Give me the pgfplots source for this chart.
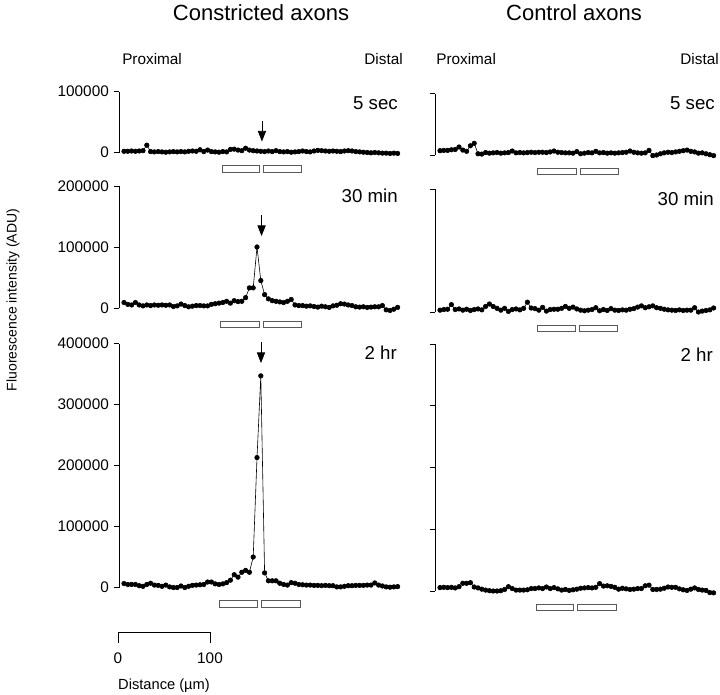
\documentclass[border=0pt]{standalone}
\usepackage{pgfplots}
\pgfplotsset{compat=1.18}
\usepackage{fontspec}
\setmainfont{Liberation Sans}
\usetikzlibrary{arrows.meta}
\newdimen\px \px=0.75pt
\pgfplotsset{
 panel/.style={scale only axis, width=213pt, xmin=-1.316, xmax=73.42, ymin=0, clip=false,
   axis x line=none, axis y line*=left, tick align=outside, major tick length=4.1pt,
   scaled y ticks=false,
   xtick=\empty, every tick/.style={black, line width=0.6pt}, axis line style={line width=0.6pt},
   yticklabel style={font=\fontsize{11.5}{12}\selectfont}, anchor=south west},
 series/.style={black, line width=0.45pt, mark=*, mark size=1.7pt, mark options={fill=black}}
}
\tikzset{boxes/.style={draw=black!65, line width=0.6pt}}
\newcommand{\bars}[4]{%
 \draw[boxes] ([yshift=-13\px]axis cs:#1,0) rectangle ([yshift=-19.5\px]axis cs:#2,0);
 \draw[boxes] ([yshift=-13\px]axis cs:#3,0) rectangle ([yshift=-19.5\px]axis cs:#4,0);}
\begin{document}
\begin{tikzpicture}
\path[use as bounding box] (0,0) rectangle (540pt,-520.5pt);
% ---------- Left row 1
\begin{axis}[panel, at={(119\px,-152.5\px)}, height=45.75pt, ymax=100000,
  ytick={0,100000}, yticklabels={0,100000}]
\addplot[series] coordinates {(0,2000)(1,2000)(2,2500)(3,2000)(4,2500)(5,3000)(6,12000)(7,1500)(8,1000)(9,1500)(10,1000)(11,500)(12,1000)(13,1500)(14,1000)(15,1500)(16,1000)(17,2000)(18,2500)(19,2000)(20,4500)(21,1500)(22,4000)(23,1500)(24,1000)(25,500)(26,1500)(27,1000)(28,5000)(29,5500)(30,4000)(31,3000)(32,7000)(33,4000)(34,3000)(35,2500)(36,2000)(37,1500)(38,2500)(39,1500)(40,3000)(41,1500)(42,1000)(43,1500)(44,500)(45,1000)(46,1500)(47,2500)(48,1500)(49,1000)(50,2500)(51,3500)(52,3000)(53,2500)(54,2000)(55,2500)(56,2000)(57,1500)(58,2500)(59,3000)(60,2500)(61,1500)(62,1000)(63,500)(64,0)(65,-500)(66,0)(67,-500)(68,-1000)(69,-1000)(70,-1500)(71,-1000)(72,-1500)};
\bars{25.8}{35.5}{36.8}{46.8}
\draw[line width=0.6pt,-{Triangle[length=8pt,width=6.2pt]}] (axis cs:36.3,52000) -- (axis cs:36.3,18000);
\end{axis}
% ---------- Left row 2
\begin{axis}[panel, at={(119\px,-308\px)}, height=91.5pt, ymax=200000,
  ytick={0,100000,200000}, yticklabels={0,100000,200000}]
\addplot[series] coordinates {(0,9000)(1,6000)(2,5000)(3,9000)(4,5000)(5,3500)(6,5000)(7,4000)(8,5000)(9,4500)(10,5000)(11,4500)(12,5000)(13,2500)(14,3500)(15,6500)(16,4000)(17,2000)(18,3000)(19,4000)(20,4000)(21,3500)(22,3500)(23,6000)(24,7000)(25,8000)(26,9000)(27,11000)(28,8000)(29,12000)(30,10500)(31,11000)(32,17000)(33,33000)(34,33000)(35,100000)(36,45000)(37,22000)(38,15000)(39,12000)(40,11000)(41,10000)(42,9000)(43,11000)(44,14000)(45,5000)(46,4000)(47,4000)(48,3000)(49,3500)(50,2500)(51,1500)(52,3000)(53,2000)(54,1000)(55,3500)(56,4500)(57,7000)(58,6500)(59,5000)(60,4000)(61,2000)(62,1500)(63,2000)(64,1000)(65,1500)(66,2000)(67,2000)(68,4000)(69,-3000)(70,-4000)(71,-2000)(72,1000)};
\bars{25.4}{35.5}{36.7}{46.8}
\draw[line width=0.6pt,-{Triangle[length=8pt,width=6.2pt]}] (axis cs:36.2,152000) -- (axis cs:36.2,118000);
\end{axis}
% ---------- Left row 3
\begin{axis}[panel, at={(119\px,-587.5\px)}, height=183pt, ymax=400000,
  ytick={0,100000,200000,300000,400000}, yticklabels={0,100000,200000,300000,400000}]
\addplot[series] coordinates {(0,6500)(1,5000)(2,5000)(3,5000)(4,3000)(5,2000)(6,5000)(7,7000)(8,4000)(9,3500)(10,2000)(11,4000)(12,1000)(13,0)(14,0)(15,2500)(16,0)(17,2000)(18,3500)(19,4000)(20,4500)(21,5000)(22,9000)(23,9000)(24,6000)(25,5000)(26,6000)(27,8000)(28,12000)(29,21000)(30,17000)(31,25000)(32,28000)(33,25000)(34,50000)(35,213000)(36,347000)(37,24000)(38,11000)(39,11000)(40,11000)(41,7000)(42,5000)(43,4000)(44,8000)(45,7000)(46,5000)(47,4500)(48,4000)(49,4000)(50,3500)(51,3500)(52,3000)(53,3500)(54,3000)(55,3000)(56,1000)(57,1000)(58,2000)(59,3000)(60,3000)(61,3500)(62,3500)(63,3500)(64,4000)(65,4000)(66,7500)(67,4000)(68,2500)(69,1000)(70,500)(71,1000)(72,1500)};
\bars{25.1}{35.2}{36.1}{46.3}
\draw[line width=0.6pt,-{Triangle[length=8pt,width=6.2pt]}] (axis cs:36.05,402500) -- (axis cs:36.05,368000);
\end{axis}
% ---------- Right row 1
\begin{axis}[panel, at={(435\px,-155\px)}, height=46.125pt, ymax=100000,
  ytick={0,100000}, yticklabels={}]
\addplot[series] coordinates {(0,7000)(1,7500)(2,7500)(3,8500)(4,9000)(5,13000)(6,8000)(7,6000)(8,15000)(9,19000)(10,2000)(11,1500)(12,4000)(13,3000)(14,3500)(15,4000)(16,3000)(17,3500)(18,4000)(19,6500)(20,3500)(21,4000)(22,3500)(23,4000)(24,4500)(25,4000)(26,4500)(27,4500)(28,4000)(29,5000)(30,6500)(31,4500)(32,4000)(33,3500)(34,3500)(35,3000)(36,5500)(37,2000)(38,3000)(39,4000)(40,3500)(41,6000)(42,3500)(43,4000)(44,3000)(45,3500)(46,3000)(47,3500)(48,4000)(49,4500)(50,6500)(51,4500)(52,3500)(53,3000)(54,3500)(55,7500)(56,-1000)(57,0)(58,2000)(59,3500)(60,4500)(61,4000)(62,5000)(63,6000)(64,7000)(65,8000)(66,6000)(67,5000)(68,3000)(69,3500)(70,2000)(71,500)(72,-1000)};
\bars{25.7}{35.8}{36.9}{47.0}
\end{axis}
% ---------- Right row 2
\begin{axis}[panel, at={(435\px,-312\px)}, height=92.25pt, ymax=200000,
  ytick={0,200000}, yticklabels={}]
\addplot[series] coordinates {(0,3000)(1,4000)(2,4500)(3,12000)(4,4000)(5,5000)(6,3000)(7,4500)(8,2500)(9,4000)(10,5000)(11,3500)(12,9000)(13,13000)(14,9000)(15,6000)(16,3000)(17,6000)(18,1000)(19,4000)(20,5000)(21,3500)(22,6000)(23,16000)(24,6500)(25,5500)(26,3000)(27,7500)(28,1500)(29,4000)(30,4500)(31,4500)(32,6000)(33,9000)(34,6000)(35,8000)(36,5000)(37,3000)(38,2000)(39,3000)(40,4000)(41,7000)(42,2000)(43,4000)(44,2500)(45,5500)(46,3000)(47,2500)(48,3500)(49,3000)(50,4500)(51,5500)(52,8000)(53,10000)(54,7000)(55,8500)(56,10000)(57,7000)(58,6000)(59,4500)(60,3500)(61,3000)(62,2500)(63,3500)(64,2500)(65,3000)(66,3000)(67,7000)(68,0)(69,1500)(70,2500)(71,3500)(72,6500)};
\bars{25.7}{35.6}{36.7}{46.8}
\end{axis}
% ---------- Right row 3
\begin{axis}[panel, at={(435\px,-591\px)}, height=185.25pt, ymax=400000,
  ytick={0,100000,200000,300000,400000}, yticklabels={}]
\addplot[series] coordinates {(0,5500)(1,6000)(2,5500)(3,6000)(4,5000)(5,7000)(6,12500)(7,12500)(8,13500)(9,6500)(10,5000)(11,3000)(12,1500)(13,500)(14,0)(15,0)(16,500)(17,2500)(18,7000)(19,4000)(20,1500)(21,1500)(22,1500)(23,2000)(24,4000)(25,4000)(26,5000)(27,4000)(28,6500)(29,4000)(30,5500)(31,3500)(32,1500)(33,2500)(34,1000)(35,2000)(36,3000)(37,4500)(38,5000)(39,5500)(40,5000)(41,6000)(42,12000)(43,8000)(44,8500)(45,7500)(46,6000)(47,3000)(48,4500)(49,3500)(50,2500)(51,3000)(52,4000)(53,4000)(54,8500)(55,9500)(56,2500)(57,2500)(58,3000)(59,4500)(60,6500)(61,6000)(62,6000)(63,3500)(64,2000)(65,1000)(66,3000)(67,5000)(68,2500)(69,1500)(70,1000)(71,-2500)(72,-3000)};
\bars{25.3}{35.1}{36.2}{46.5}
\end{axis}
% ---------- Scale bar
\begin{axis}[scale only axis, anchor=south west, at={(118\px,-632\px)}, width=69pt, height=1pt,
  xmin=0, xmax=100, ymin=0, ymax=1, axis y line=none, axis x line*=bottom, tick align=outside,
  major tick length=8.25pt, xtick={0,100}, xticklabels={0,100}, ytick=\empty,
  every tick/.style={black, line width=0.6pt}, axis line style={line width=0.6pt},
  xticklabel style={font=\fontsize{11.5}{12}\selectfont, yshift=-4pt},
  xlabel={Distance (µm)}, xlabel style={font=\fontsize{11}{12}\selectfont, yshift=-4.5pt}]
\addplot[draw=none] coordinates {(0,0)(100,0)};
\end{axis}
% ---------- Texts
\node[font=\fontsize{16.5}{18}\selectfont, inner sep=0] at (261\px,-13\px) {Constricted axons};
\node[font=\fontsize{16.5}{18}\selectfont, inner sep=0] at (574\px,-13\px) {Control axons};
\begin{scope}[every node/.style={font=\fontsize{11.5}{12}\selectfont, inner sep=0}]
\node[anchor=west] at (122\px,-59\px) {Proximal};
\node[anchor=east] at (403\px,-59\px) {Distal};
\node[anchor=west] at (436\px,-59\px) {Proximal};
\node[anchor=east] at (719\px,-59\px) {Distal};
\end{scope}
\begin{scope}[every node/.style={font=\fontsize{14}{16}\selectfont, inner sep=0, anchor=east}]
\node at (398\px,-103\px) {5 sec};
\node at (398\px,-196\px) {30 min};
\node at (397\px,-353\px) {2 hr};
\node at (715\px,-103\px) {5 sec};
\node at (714\px,-199\px) {30 min};
\node at (713\px,-355\px) {2 hr};
\end{scope}
\node[font=\fontsize{10.5}{12}\selectfont, inner sep=0, rotate=90] at (13\px,-300\px) {Fluorescence intensity (ADU)};
\end{tikzpicture}
\end{document}
